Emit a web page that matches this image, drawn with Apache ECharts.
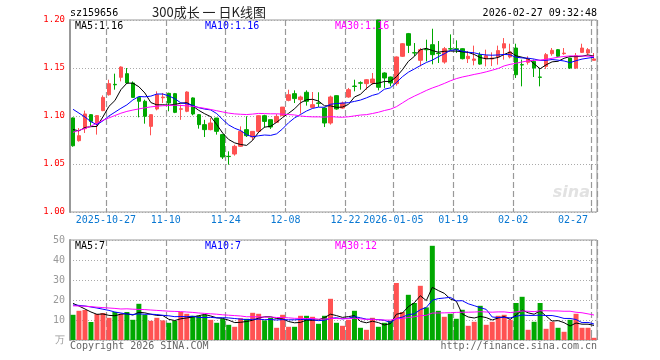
<!DOCTYPE html>
<html><head><meta charset="utf-8">
<script src="https://cdn.jsdelivr.net/npm/echarts@6/dist/echarts.min.js"></script>
<style>html,body{margin:0;padding:0;background:#fff}#c{width:660px;height:360px}</style>
</head><body><div id="c"></div>
<script>
const dates = ['2025-10-17','2025-10-20','2025-10-21','2025-10-22','2025-10-23','2025-10-24','2025-10-27','2025-10-28','2025-10-29','2025-10-30','2025-10-31','2025-11-03','2025-11-04','2025-11-05','2025-11-06','2025-11-07','2025-11-10','2025-11-11','2025-11-12','2025-11-13','2025-11-14','2025-11-17','2025-11-18','2025-11-19','2025-11-20','2025-11-21','2025-11-24','2025-11-25','2025-11-26','2025-11-27','2025-11-28','2025-12-01','2025-12-02','2025-12-03','2025-12-04','2025-12-05','2025-12-08','2025-12-09','2025-12-10','2025-12-11','2025-12-12','2025-12-15','2025-12-16','2025-12-17','2025-12-18','2025-12-19','2025-12-22','2025-12-23','2025-12-24','2025-12-25','2025-12-26','2025-12-29','2025-12-30','2025-12-31','2026-01-05','2026-01-06','2026-01-07','2026-01-08','2026-01-09','2026-01-12','2026-01-13','2026-01-14','2026-01-15','2026-01-16','2026-01-19','2026-01-20','2026-01-21','2026-01-22','2026-01-23','2026-01-26','2026-01-27','2026-01-28','2026-01-29','2026-01-30','2026-02-02','2026-02-03','2026-02-04','2026-02-05','2026-02-06','2026-02-09','2026-02-10','2026-02-11','2026-02-12','2026-02-13','2026-02-24','2026-02-25','2026-02-26','2026-02-27'];
const tickDates = ['2025-10-27','2025-11-10','2025-11-24','2025-12-08','2025-12-22','2026-01-05','2026-01-19','2026-02-02','2026-02-27'];
const tickLabels = ['2025-10-27','11-10','11-24','12-08','12-22','2026-01-05','01-19','02-02','02-27'];

const opens  = [1.098,1.0743,1.0868,1.1014,1.092,1.1056,1.1222,1.133,1.1403,1.1441,1.1344,1.1194,1.1153,1.0892,1.1073,1.119,1.1236,1.1233,1.107,1.1049,1.1188,1.1014,1.091,1.0858,1.0979,1.0806,1.058,1.0604,1.0684,1.0858,1.0781,1.084,1.1003,1.0962,1.0934,1.1003,1.1163,1.1233,1.117,1.1247,1.109,1.1136,1.1083,1.0927,1.1212,1.1083,1.1198,1.1312,1.1346,1.1337,1.1344,1.2,1.1448,1.1406,1.1337,1.1622,1.1858,1.166,1.158,1.1694,1.1743,1.1655,1.1562,1.1701,1.1701,1.1701,1.1597,1.158,1.1639,1.1597,1.1594,1.1615,1.1708,1.1615,1.1708,1.1535,1.1559,1.1569,1.1406,1.1517,1.1649,1.1691,1.1649,1.1604,1.15,1.1663,1.1656,1.158];
const highs  = [1.0985,1.0875,1.1056,1.102,1.1006,1.1215,1.1378,1.1441,1.1517,1.15,1.136,1.1194,1.117,1.1014,1.1257,1.124,1.1243,1.124,1.1118,1.1257,1.1194,1.102,1.096,1.0979,1.098,1.0806,1.0632,1.0701,1.0892,1.0997,1.084,1.1006,1.1013,1.0962,1.102,1.1093,1.1274,1.1267,1.1212,1.1267,1.125,1.1247,1.109,1.1212,1.1215,1.115,1.1292,1.1378,1.1361,1.1385,1.1448,1.2,1.1455,1.141,1.162,1.176,1.1865,1.176,1.1708,1.1795,1.1909,1.1781,1.1719,1.185,1.1788,1.1705,1.1677,1.1733,1.1663,1.1691,1.1663,1.1733,1.1812,1.1753,1.1753,1.1587,1.1622,1.1587,1.15,1.1656,1.1708,1.1698,1.1708,1.1604,1.1656,1.1753,1.1708,1.1656];
const lows   = [1.068,1.0733,1.0823,1.0885,1.0806,1.105,1.1212,1.1274,1.1361,1.1337,1.119,1.0986,1.092,1.0799,1.1059,1.1135,1.1049,1.103,1.096,1.104,1.1007,1.0868,1.0781,1.085,1.0806,1.0552,1.0493,1.0587,1.0677,1.0781,1.0747,1.0823,1.0878,1.0865,1.093,1.1,1.1153,1.1135,1.1024,1.1108,1.108,1.1094,1.0885,1.091,1.1066,1.1076,1.119,1.1257,1.1274,1.1274,1.1326,1.1267,1.1292,1.1309,1.1316,1.1615,1.1656,1.1622,1.1517,1.1569,1.1538,1.1552,1.1545,1.1684,1.1656,1.159,1.1552,1.1528,1.1535,1.1517,1.152,1.1535,1.1587,1.16,1.1396,1.1309,1.1535,1.1406,1.1309,1.149,1.1628,1.1615,1.1638,1.149,1.149,1.1656,1.1638,1.158];
const closes = [1.069,1.0795,1.1021,1.0944,1.1004,1.1194,1.1337,1.1325,1.151,1.1344,1.1194,1.1153,1.0997,1.1014,1.1222,1.1197,1.1135,1.1038,1.1075,1.125,1.1021,1.091,1.0858,1.0927,1.084,1.0573,1.0577,1.0684,1.084,1.0795,1.084,1.1003,1.0944,1.0885,1.0996,1.1093,1.1222,1.1181,1.1198,1.1153,1.1118,1.1132,1.0927,1.1198,1.1073,1.1135,1.1274,1.1308,1.1342,1.1378,1.1385,1.1299,1.1396,1.1344,1.1615,1.1753,1.1736,1.1656,1.1691,1.169,1.1639,1.165,1.1701,1.1698,1.1693,1.1597,1.1622,1.1594,1.1541,1.1628,1.1604,1.1681,1.1753,1.1667,1.143,1.1531,1.1594,1.15,1.1403,1.1639,1.1684,1.1622,1.1655,1.15,1.1628,1.1708,1.1691,1.1594];

const ma5  = [1.0860,1.0845,1.0880,1.0889,1.0891,1.0992,1.1100,1.1161,1.1274,1.1342,1.1342,1.1305,1.1240,1.1140,1.1116,1.1117,1.1113,1.1121,1.1133,1.1139,1.1104,1.1059,1.1023,1.0993,1.0911,1.0822,1.0755,1.0720,1.0703,1.0694,1.0747,1.0832,1.0884,1.0893,1.0934,1.0984,1.1028,1.1075,1.1138,1.1169,1.1174,1.1156,1.1106,1.1106,1.1090,1.1093,1.1121,1.1198,1.1226,1.1287,1.1337,1.1342,1.1360,1.1360,1.1408,1.1481,1.1569,1.1621,1.1690,1.1705,1.1682,1.1665,1.1674,1.1676,1.1676,1.1668,1.1662,1.1641,1.1609,1.1596,1.1598,1.1610,1.1641,1.1667,1.1627,1.1612,1.1595,1.1544,1.1492,1.1533,1.1564,1.1570,1.1601,1.1620,1.1618,1.1623,1.1636,1.1624];
const ma10 = [1.107,1.103,1.099,1.094,1.091,1.095,1.100,1.104,1.108,1.1116,1.1167,1.1203,1.1200,1.1207,1.1229,1.1229,1.1209,1.1180,1.1137,1.1128,1.1110,1.1086,1.1072,1.1063,1.1025,1.0963,1.0907,1.0872,1.0848,1.0803,1.0784,1.0794,1.0802,1.0798,1.0814,1.0866,1.0930,1.0980,1.1016,1.1052,1.1079,1.1092,1.1091,1.1122,1.1130,1.1134,1.1139,1.1152,1.1166,1.1189,1.1215,1.1232,1.1279,1.1293,1.1348,1.1409,1.1456,1.1490,1.1525,1.1557,1.1582,1.1617,1.1648,1.1683,1.1691,1.1675,1.1664,1.1658,1.1643,1.1636,1.1633,1.1636,1.1641,1.1638,1.1612,1.1605,1.1602,1.1593,1.1579,1.1580,1.1588,1.1582,1.1573,1.1556,1.1576,1.1593,1.1603,1.1612];
const ma30 = [1.0830,1.0850,1.0870,1.0895,1.0925,1.0955,1.0980,1.1005,1.1029,1.1048,1.1062,1.1074,1.1085,1.1095,1.1102,1.1107,1.1110,1.1112,1.1110,1.1106,1.1100,1.1090,1.1080,1.1068,1.1055,1.1042,1.1030,1.1022,1.1018,1.1015,1.1020,1.1027,1.1025,1.1023,1.1023,1.1019,1.1015,1.1011,1.1000,1.0994,1.0991,1.0991,1.0988,1.0994,1.0989,1.0987,1.0992,1.1001,1.1010,1.1014,1.1026,1.1039,1.1057,1.1071,1.1097,1.1136,1.1175,1.1207,1.1236,1.1266,1.1292,1.1314,1.1339,1.1366,1.1389,1.1406,1.1419,1.1433,1.1445,1.1460,1.1477,1.1495,1.1522,1.1538,1.1550,1.1563,1.1574,1.1580,1.1582,1.1591,1.1601,1.1612,1.1620,1.1626,1.1626,1.1625,1.1623,1.1621];

const volumes = [12.6,14.6,15.0,9.0,13.0,13.5,11.1,14.0,13.1,14.0,10.1,18.1,12.6,9.6,11.1,9.8,8.6,9.6,14.0,13.1,12.1,12.1,12.6,10.1,8.6,10.6,7.6,6.6,10.9,10.6,13.6,13.1,9.8,11.1,6.1,12.6,6.6,6.6,12.1,12.1,11.6,8.1,12.1,20.6,8.6,7.1,10.1,14.6,6.1,5.1,11.1,6.6,8.6,9.6,28.5,14.0,22.6,18.5,27.1,16.3,47.1,14.6,11.6,13.1,10.6,15.1,7.1,9.1,17.1,7.6,9.1,12.1,12.6,10.1,18.5,21.6,5.1,9.1,18.5,5.6,9.1,6.1,4.1,10.1,13.1,6.1,6.1,1.1];
const vma5  = [18.3,17.0,15.5,14.0,12.84,13.02,12.32,12.12,12.94,13.14,12.46,13.86,13.58,12.88,12.3,12.24,10.34,9.74,10.62,11.02,11.48,12.18,12.78,12.0,11.1,10.8,9.9,8.7,8.86,9.26,9.86,10.96,11.6,11.64,10.74,10.54,9.24,8.6,8.8,10.0,9.8,10.1,11.2,12.9,12.2,11.3,11.7,12.2,9.3,8.6,9.4,8.7,7.5,8.2,12.88,13.46,16.66,18.64,22.14,19.7,26.32,24.72,23.34,20.54,19.4,13.0,11.5,11.0,11.8,11.2,10.0,11.0,11.7,10.3,12.48,14.98,13.58,12.88,14.56,11.98,9.48,9.68,8.68,7.0,8.5,7.9,7.9,7.3];
const vma10 = [17.5,17.3,17.0,16.5,16.0,15.4,14.8,14.0,13.5,12.99,12.74,13.09,12.85,12.91,12.72,12.35,12.1,11.66,11.75,11.66,11.86,11.26,11.26,11.31,11.06,11.14,11.04,10.74,10.43,10.18,10.33,10.43,10.15,10.25,10.0,10.2,10.1,10.1,10.22,10.37,10.17,9.67,9.9,10.85,11.1,10.55,10.9,11.7,11.1,10.4,10.35,10.2,9.85,8.75,10.74,11.43,12.68,13.07,15.17,16.29,19.89,20.69,20.99,21.34,19.55,19.66,18.11,17.17,16.17,15.3,11.5,11.25,11.35,11.05,11.84,12.49,12.29,12.29,12.43,12.23,12.23,11.63,10.78,10.78,10.24,8.69,8.79,7.99];
const vma30 = [17.1,17.0,16.9,16.7,16.4,16.2,16.0,15.8,15.5,15.6,15.4,15.3,15.2,15.0,14.8,14.6,14.4,14.3,14.2,14.0,13.8,13.5,13.3,13.1,12.9,12.6,12.4,12.2,12.0,11.61,11.64,11.59,11.42,11.49,11.26,11.23,11.08,10.83,10.8,10.74,10.79,10.45,10.44,10.8,10.72,10.63,10.68,10.85,10.58,10.32,10.28,10.1,9.97,9.95,10.61,10.73,11.23,11.62,12.16,12.35,13.47,13.52,13.58,13.65,13.8,13.88,13.9,13.98,14.15,14.0,13.91,14.05,14.06,13.71,14.04,14.53,14.36,14.18,14.59,14.61,14.54,14.52,14.37,14.39,13.88,13.61,13.06,12.48];

const priceTicks = {min: 1.00, max: 1.20, interval: 0.05};
const volTicks = {min: 0, max: 50, interval: 10};

const RED = '#ff5252', GREEN = '#00a800', GRID = '#aaaaaa', VGRID = '#999999', BORDER = '#999999';
const MONO = 'DejaVu Sans Mono';
const tickIndices = tickDates.map(d => dates.indexOf(d));
const tickIdx = new Set(tickIndices);
const isTick = (i) => tickIdx.has(i);

const kData = dates.map((d, i) => [opens[i], closes[i], lows[i], highs[i]]);
const volData = volumes.map((v, i) => ({value: v, itemStyle: {color: closes[i] >= opens[i] ? RED : GREEN}}));

// vertical dashed split lines at the tick days (band left edge); ticks enabled so split lines are generated
const xBase = {
  type: 'category', data: dates, boundaryGap: true,
  axisLine: {show: false},
  axisTick: {show: true, inside: true, interval: isTick, length: 4, lineStyle: {color: VGRID, width: 1}},
  splitLine: {show: true, interval: isTick, lineStyle: {color: VGRID, width: 1.2, type: [6, 3]}}
};

const chart = echarts.init(document.getElementById('c'), null, {renderer: 'canvas'});
chart.setOption({
  animation: false,
  textStyle: {fontFamily: MONO},
  grid: [
    {left: 70, top: 20, width: 527, height: 192, show: true, borderColor: BORDER, borderWidth: 1},
    {left: 70, top: 240, width: 527, height: 100, show: true, borderColor: BORDER, borderWidth: 1}
  ],
  xAxis: [
    Object.assign({}, xBase, {gridIndex: 0, axisLabel: {
      show: true, interval: isTick, formatter: v => tickLabels[tickDates.indexOf(v)],
      color: '#0a78d2', fontFamily: MONO, fontSize: 10, margin: 3, padding: [0, 6, 0, 0], alignMaxLabel: 'right'}}),
    Object.assign({}, xBase, {gridIndex: 1, axisLabel: {show: false}})
  ],
  yAxis: [
    {type: 'value', gridIndex: 0, min: priceTicks.min, max: priceTicks.max, interval: priceTicks.interval,
     axisLine: {show: true, lineStyle: {color: BORDER, width: 2}}, axisTick: {show: false},
     axisLabel: {color: '#ff0000', fontFamily: MONO, fontSize: 9, margin: 5, formatter: v => v.toFixed(2)},
     splitLine: {show: true, lineStyle: {color: GRID, type: [1, 2]}}},
    {type: 'value', gridIndex: 1, min: volTicks.min, max: volTicks.max, interval: volTicks.interval,
     axisLine: {show: true, lineStyle: {color: BORDER, width: 2}}, axisTick: {show: false},
     axisLabel: {color: '#999999', fontFamily: MONO, fontSize: 10, margin: 5, formatter: v => v === 0 ? '万' : String(v)},
     splitLine: {show: true, lineStyle: {color: GRID, type: [1, 2]}}}
  ],
  series: [
    {type: 'candlestick', xAxisIndex: 0, yAxisIndex: 0, data: kData, barWidth: 4, z: 3,
     itemStyle: {color: RED, color0: GREEN, borderColor: RED, borderColor0: GREEN, borderWidth: 1}},
    {type: 'bar', xAxisIndex: 1, yAxisIndex: 1, data: volData, barWidth: 5, z: 3},
    {type: 'line', xAxisIndex: 0, yAxisIndex: 0, data: ma5, showSymbol: false, lineStyle: {color: '#000000', width: 1}, z: 5},
    {type: 'line', xAxisIndex: 0, yAxisIndex: 0, data: ma10, showSymbol: false, lineStyle: {color: '#0000ff', width: 1}, z: 5},
    {type: 'line', xAxisIndex: 0, yAxisIndex: 0, data: ma30, showSymbol: false, lineStyle: {color: '#ff00ff', width: 1}, z: 5},
    {type: 'line', xAxisIndex: 1, yAxisIndex: 1, data: vma5, showSymbol: false, lineStyle: {color: '#000000', width: 1}, z: 5},
    {type: 'line', xAxisIndex: 1, yAxisIndex: 1, data: vma10, showSymbol: false, lineStyle: {color: '#0000ff', width: 1}, z: 5},
    {type: 'line', xAxisIndex: 1, yAxisIndex: 1, data: vma30, showSymbol: false, lineStyle: {color: '#ff00ff', width: 1}, z: 5}
  ],
  graphic: [
    {type: 'text', x: 70, y: 13, style: {text: 'sz159656', font: '10px "DejaVu Sans Mono"', fill: '#000', verticalAlign: 'middle'}},
    {type: 'text', x: 209, y: 12, style: {text: '300成长 一 日K线图', font: '13px "Noto Sans CJK SC"', fill: '#222', align: 'center', verticalAlign: 'middle'}},
    {type: 'text', x: 597, y: 13, style: {text: '2026-02-27 09:32:48', font: '10px "DejaVu Sans Mono"', fill: '#000', align: 'right', verticalAlign: 'middle'}},
    {type: 'text', x: 75, y: 26, z: 10, style: {text: 'MA5:1.16', font: '10px "DejaVu Sans Mono"', fill: '#000', verticalAlign: 'middle'}},
    {type: 'text', x: 205, y: 26, z: 10, style: {text: 'MA10:1.16', font: '10px "DejaVu Sans Mono"', fill: '#0000ff', verticalAlign: 'middle'}},
    {type: 'text', x: 335, y: 26, z: 10, style: {text: 'MA30:1.16', font: '10px "DejaVu Sans Mono"', fill: '#ff00ff', verticalAlign: 'middle'}},
    {type: 'text', x: 75, y: 246, z: 10, style: {text: 'MA5:7', font: '10px "DejaVu Sans Mono"', fill: '#000', verticalAlign: 'middle'}},
    {type: 'text', x: 205, y: 246, z: 10, style: {text: 'MA10:7', font: '10px "DejaVu Sans Mono"', fill: '#0000ff', verticalAlign: 'middle'}},
    {type: 'text', x: 335, y: 246, z: 10, style: {text: 'MA30:12', font: '10px "DejaVu Sans Mono"', fill: '#ff00ff', verticalAlign: 'middle'}},
    {type: 'text', x: 70, y: 346, style: {text: 'Copyright 2026 SINA.COM', font: '10px "DejaVu Sans Mono"', fill: '#666', verticalAlign: 'middle'}},
    {type: 'text', x: 597, y: 346, style: {text: 'http://finance.sina.com.cn', font: '10px "DejaVu Sans Mono"', fill: '#666', align: 'right', verticalAlign: 'middle'}},
    {type: 'text', x: 590, y: 193, style: {text: 'sina', font: 'italic bold 16px "DejaVu Sans"', fill: '#e2e2e2', align: 'right', verticalAlign: 'middle'}}
  ]
});
</script>
</body></html>
